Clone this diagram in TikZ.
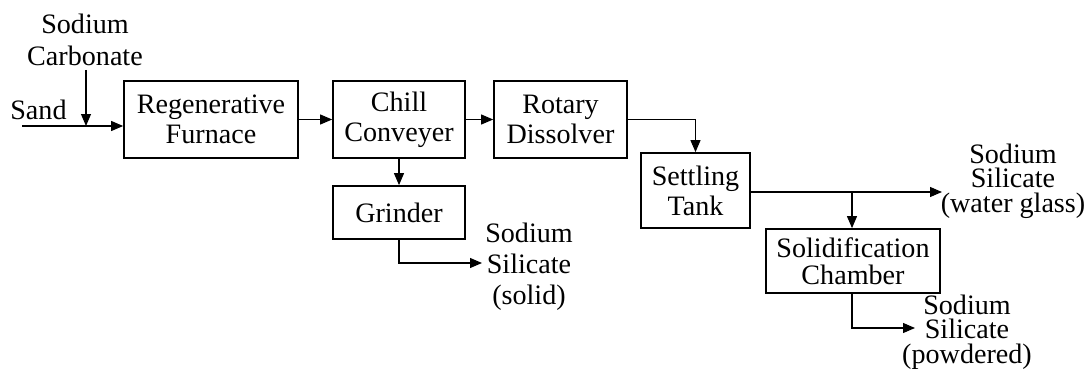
\documentclass[tikz,border=0pt]{standalone}
\usepackage{fontspec}
\setmainfont{Liberation Serif}
\usetikzlibrary{arrows.meta}
\usetikzlibrary{calc}

\begin{document}
\begin{tikzpicture}[x=0.02cm, y=-0.02cm,
        unit/.style={draw=black, line width=1pt, align=center, inner sep=0pt,
            font=\fontsize{16}{17}\selectfont},
        stream/.style={align=center, inner sep=0pt},
        flow/.style={line width=0.6pt, -{Triangle[length=0.24cm, width=0.2cm]}},
        pipe/.style={line width=0.6pt}]
                \useasboundingbox (0, 0) rectangle (1091, 371);
                % process units
                \node[unit, minimum width=3.48cm, minimum height=1.54cm] (furnace) at (211, 119.5) {Regenerative\\Furnace};
                \node[unit, minimum width=2.64cm, minimum height=1.54cm] (chill) at (399, 119.5) {Chill\\Conveyer};
                \node[unit, minimum width=2.66cm, minimum height=1.54cm] (rotary) at (560.5, 119.5) {Rotary\\Dissolver};
                \node[unit, minimum width=2.64cm, minimum height=1.06cm] (grinder) at (399, 212.5) {Grinder};
                \node[unit, minimum width=2.18cm, minimum height=1.50cm] (settling) at (695.5, 190.5) {Settling\\Tank};
                \node[unit, minimum width=3.48cm, minimum height=1.28cm, font=\fontsize{16}{15.4}\selectfont] (chamber) at (853, 261) {Solidification\\Chamber};
                % feeds and products
                \node[stream, anchor=base west, font=\fontsize{16}{17}\selectfont] (sand) at (10, 120) {Sand};
                \node[stream, font=\fontsize{16}{18.2}\selectfont] (carbonate) at (85, 40) {Sodium\\Carbonate};
                \node[stream, font=\fontsize{16}{17.6}\selectfont] (solid) at (529, 267) {Sodium\\Silicate\\(solid)};
                \node[stream, font=\fontsize{16}{14}\selectfont] (waterglass) at (1013, 181) {Sodium\\Silicate\\(water glass)};
                \node[stream, font=\fontsize{16}{14}\selectfont] (powdered) at (967, 332) {Sodium\\Silicate\\(powdered)};
                \coordinate (sandin) at (22, 126);
                \coordinate (mix) at (86, 126);
                \coordinate (carbin) at (86, 70);
                \coordinate (wgout) at (942, 192);
                \coordinate (split) at (852, 192);
                \coordinate (solidout) at (482, 263);
                \coordinate (powout) at (915, 328);
                % connectors
                \draw[flow] (sandin) -- (sandin -| furnace.west);
                \draw[flow] (carbin) -- (mix);
                \draw[flow] (furnace) -- (chill);
                \draw[flow] (chill) -- (rotary);
                \draw[flow] (chill) -- (grinder);
                \draw[flow] (rotary.east) -| (settling.north);
                \draw[flow] (settling.east |- wgout) -- (wgout);
                \draw[flow] (split) -- (chamber.north -| split);
                \draw[flow] (grinder.south) |- (solidout);
                \draw[flow] (chamber.south -| split) |- (powout);
            \end{tikzpicture}
\end{document}
